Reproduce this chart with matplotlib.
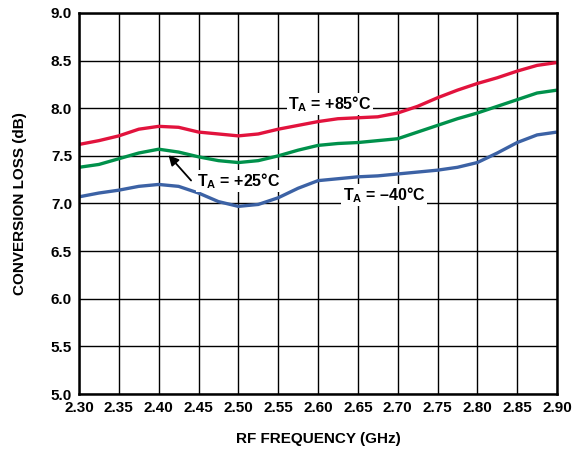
import matplotlib
matplotlib.use("Agg")
import matplotlib.pyplot as plt
import numpy as np

plt.rcParams['font.family'] = ['Liberation Sans', 'DejaVu Sans']
plt.rcParams['font.weight'] = 'bold'
plt.rcParams['mathtext.fontset'] = 'custom'
plt.rcParams['mathtext.bf'] = 'Liberation Sans:bold'
plt.rcParams['mathtext.rm'] = 'Liberation Sans:bold'
plt.rcParams['mathtext.default'] = 'bf'

freq = [2.300, 2.325, 2.350, 2.375, 2.400, 2.425, 2.450, 2.475, 2.500, 2.525,
        2.550, 2.575, 2.600, 2.625, 2.650, 2.675, 2.700, 2.725, 2.750, 2.775,
        2.800, 2.825, 2.850, 2.875, 2.900]
loss_85 = [7.62, 7.66, 7.71, 7.78, 7.81, 7.80, 7.75, 7.73, 7.71, 7.73,
           7.78, 7.82, 7.86, 7.89, 7.90, 7.91, 7.95, 8.02, 8.11, 8.19,
           8.26, 8.32, 8.39, 8.45, 8.48]
loss_25 = [7.38, 7.41, 7.47, 7.53, 7.57, 7.54, 7.49, 7.45, 7.43, 7.45,
           7.50, 7.56, 7.61, 7.63, 7.64, 7.66, 7.68, 7.75, 7.82, 7.89,
           7.95, 8.02, 8.09, 8.16, 8.19]
loss_m40 = [7.07, 7.11, 7.14, 7.18, 7.20, 7.18, 7.11, 7.02, 6.97, 6.99,
            7.06, 7.16, 7.24, 7.26, 7.28, 7.29, 7.31, 7.33, 7.35, 7.38,
            7.43, 7.53, 7.64, 7.72, 7.75]

x_ticks = [2.30, 2.35, 2.40, 2.45, 2.50, 2.55, 2.60, 2.65, 2.70, 2.75, 2.80, 2.85, 2.90]
y_ticks = [5.0, 5.5, 6.0, 6.5, 7.0, 7.5, 8.0, 8.5, 9.0]

fig = plt.figure(figsize=(5.74, 4.49), dpi=100)
ax = fig.add_axes([79/574, 55/449, (557-79)/574, (394-13)/449])

for vals, col in [(loss_85, '#E2133D'), (loss_25, '#00914B'), (loss_m40, '#3C62A5')]:
    ax.plot(freq, vals, color=col, lw=2.4, zorder=3,
            solid_capstyle='butt', solid_joinstyle='round')

ax.set_xlim(2.30, 2.90)
ax.set_ylim(5.0, 9.0)
ax.set_xticks(x_ticks)
ax.set_xticklabels([f"{v:.2f}" for v in x_ticks], fontweight='bold', fontsize=11)
ax.set_yticks(y_ticks)
ax.set_yticklabels([f"{v:.1f}" for v in y_ticks], fontweight='bold', fontsize=11)
ax.tick_params(length=0, pad=5)
ax.grid(True, color='black', lw=1.0, zorder=1)
for s in ax.spines.values():
    s.set_linewidth(1.8)
    s.set_zorder(5)

ax.set_xlabel('RF FREQUENCY (GHz)', fontsize=11, fontweight='bold', labelpad=12)
ax.set_ylabel('CONVERSION LOSS (dB)', fontsize=11, fontweight='bold', labelpad=17)

box = dict(boxstyle='square,pad=0.08', fc='white', ec='none')
ax.text(2.5623, 7.99, r'T$_\mathbf{A}$ = +85°C', fontsize=11.5, fontweight='bold',
        ha='left', va='baseline', bbox=box, zorder=4)
ax.text(2.631, 7.035, r'T$_\mathbf{A}$ = –40°C', fontsize=11.5, fontweight='bold',
        ha='left', va='baseline', bbox=box, zorder=4)
ax.text(2.448, 7.18, r'T$_\mathbf{A}$ = +25°C', fontsize=11.5, fontweight='bold',
        ha='left', va='baseline', bbox=box, zorder=4)
ax.annotate('', xy=(2.410, 7.53), xytext=(2.443, 7.22),
            arrowprops=dict(arrowstyle='-|>,head_length=0.6,head_width=0.3',
                            color='black', lw=1.3), zorder=4)

fig.savefig('out.png', dpi=100)
